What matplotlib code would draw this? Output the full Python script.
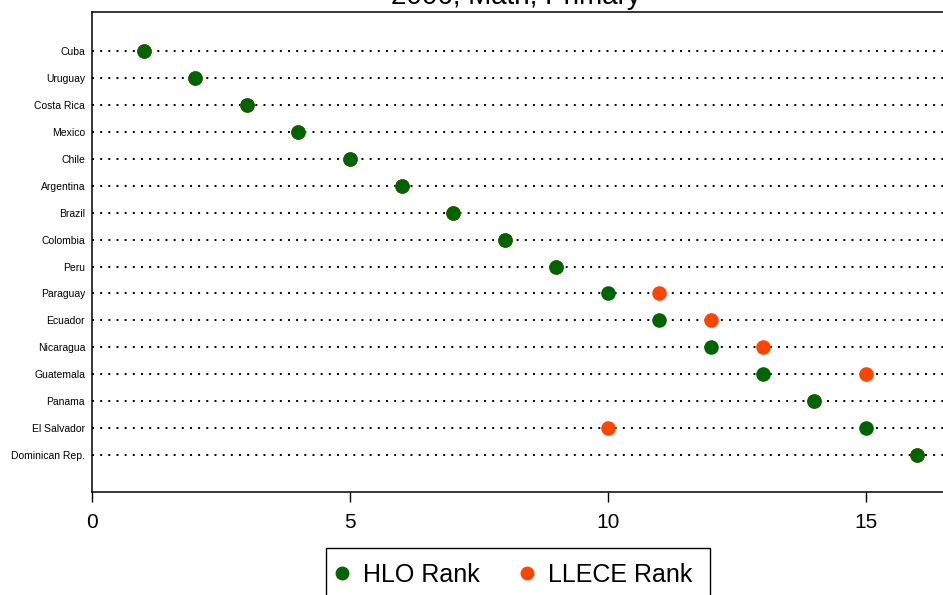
import matplotlib.pyplot as plt
from matplotlib.lines import Line2D
from matplotlib.patches import Rectangle

plt.rcParams['font.family'] = ['Liberation Sans', 'DejaVu Sans']

countries = ['Cuba', 'Uruguay', 'Costa Rica', 'Mexico', 'Chile', 'Argentina',
             'Brazil', 'Colombia', 'Peru', 'Paraguay', 'Ecuador', 'Nicaragua',
             'Guatemala', 'Panama', 'El Salvador', 'Dominican Rep.']
hlo_rank = [1, 2, 3, 4, 5, 6, 7, 8, 9, 10, 11, 12, 13, 14, 15, 16]
llece_rank = [1, 2, 3, 4, 5, 6, 7, 8, 9, 11, 12, 13, 15, 14, 10, 16]

green = '#006400'
orange = '#ff4500'

fig = plt.figure(figsize=(9.43, 5.95), dpi=100)
# plot region runs off the right edge of the figure
ax = fig.add_axes([92 / 943, 1 - 492 / 595, (969 - 92) / 943, 480 / 595])

n = len(countries)
ypos = [n - i for i in range(n)]

for y in ypos:
    ax.axhline(y, color='black', lw=1.4, ls=(0, (1, 3.2)), zorder=1)

ax.scatter(llece_rank, ypos, s=110, color=orange, zorder=3, linewidths=0)
ax.scatter(hlo_rank, ypos, s=110, color=green, zorder=4, linewidths=0)

ax.set_xlim(0, 17)
ax.set_ylim(-0.37, 17.45)
ax.set_xticks([0, 5, 10, 15])
ax.tick_params(axis='x', length=7, width=1, labelsize=15, pad=8)
ax.set_yticks(ypos)
ax.set_yticklabels(countries, fontsize=7.5)
ax.tick_params(axis='y', length=0, pad=5)
for sp in ax.spines.values():
    sp.set_linewidth(1.1)

fig.text(516 / 943, 1 - 4 / 595, '2006, Math, Primary', fontsize=20,
         ha='center', va='baseline')

# legend box, open at the bottom edge of the figure
fig.patches.append(Rectangle((326 / 943, -0.05), (710 - 326) / 943,
                             (595 - 548) / 595 + 0.05, transform=fig.transFigure,
                             fill=False, edgecolor='black', linewidth=1.0))

handles = [Line2D([], [], ls='none', marker='o', ms=10, color=green, mec='none'),
           Line2D([], [], ls='none', marker='o', ms=10, color=orange, mec='none')]
fig.legend(handles, ['HLO Rank', 'LLECE Rank'], loc='center left',
           bbox_to_anchor=(332 / 943, 1 - 575 / 595), ncol=2,
           fontsize=18, frameon=False, handlelength=0.8, handletextpad=0.44,
           columnspacing=1.48, borderpad=0, borderaxespad=0)

fig.savefig('out.png', dpi=100)
